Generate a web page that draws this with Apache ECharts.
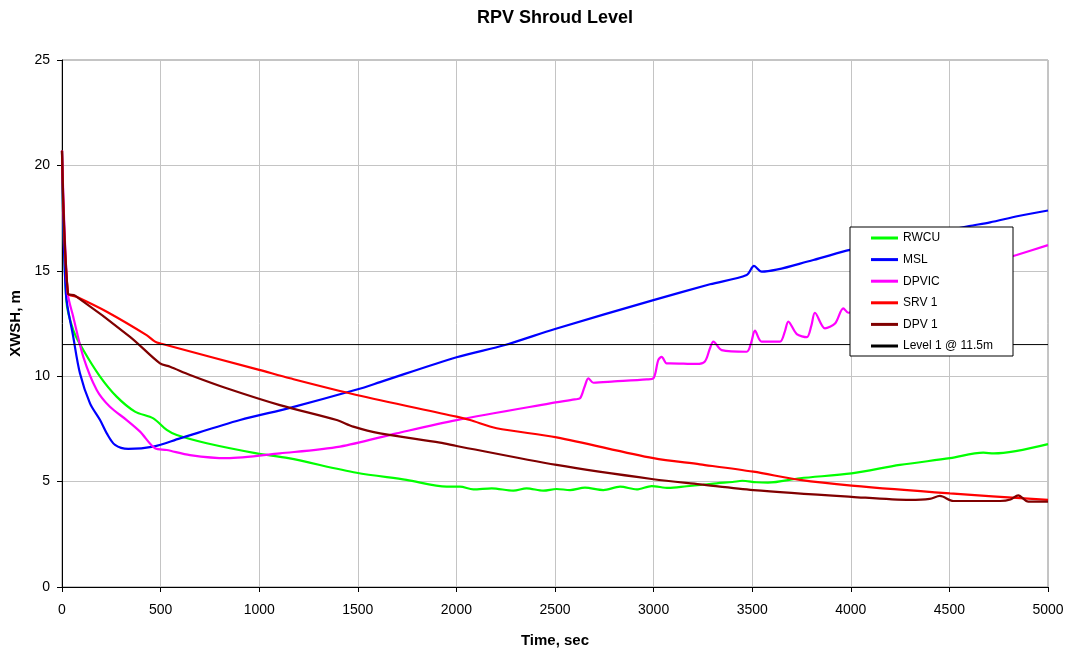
<!DOCTYPE html>
<html>
<head>
<meta charset="utf-8">
<title>RPV Shroud Level</title>
<script src="https://cdn.jsdelivr.net/npm/echarts@6/dist/echarts.min.js"></script>
<style>
  html, body { margin: 0; padding: 0; background: #fff; }
  #chart { width: 1069px; height: 652px; }
</style>
</head>
<body>
<div id="chart"></div>
<script>
// Time axis ticks (sec) and level axis ticks (m)
const xTicks = [0, 500, 1000, 1500, 2000, 2500, 3000, 3500, 4000, 4500, 5000];
const yTicks = [0, 5, 10, 15, 20, 25];

// RWCU break
const rwcuTime  = [0, 22, 57, 108, 193, 277, 370, 463, 531, 582, 734, 987, 1148, 1494, 1747, 1951, 2018, 2086, 2179, 2289, 2356, 2441, 2508, 2576, 2652, 2745, 2830, 2914, 2990, 3075, 3168, 3250, 3320, 3400, 3450, 3520, 3580, 3742, 4004, 4249, 4503, 4672, 4726, 5000];
const rwcuLevel = [20.7, 13.6, 12.19, 11.24, 9.98, 9.03, 8.32, 8.0, 7.45, 7.21, 6.82, 6.34, 6.11, 5.42, 5.08, 4.76, 4.76, 4.63, 4.68, 4.57, 4.68, 4.57, 4.65, 4.6, 4.71, 4.6, 4.76, 4.63, 4.79, 4.70, 4.78, 4.85, 4.92, 4.98, 5.04, 4.97, 4.95, 5.16, 5.39, 5.79, 6.11, 6.37, 6.34, 6.78];

// MSL break
const mslTime  = [0, 20, 57, 91, 142, 193, 227, 269, 336, 463, 598, 903, 1156, 1500, 1613, 2001, 2247, 2500, 2999, 3286, 3472, 3509, 3548, 3810, 3996, 4400, 4600, 4706, 4850, 5000];
const mslLevel = [20.7, 13.9, 11.87, 10.14, 8.71, 7.92, 7.29, 6.74, 6.55, 6.66, 7.05, 7.92, 8.5, 9.38, 9.72, 10.9, 11.48, 12.24, 13.61, 14.36, 14.80, 15.23, 14.96, 15.51, 15.99, 16.75, 17.12, 17.3, 17.6, 17.86];

// DPVIC
const dpvicTime  = [0, 28, 57, 108, 176, 243, 328, 396, 472, 531, 649, 835, 1105, 1410, 1697, 2001, 2475, 2600, 2627, 2650, 2669, 2695, 2800, 2965, 2999, 3024, 3041, 3066, 3083, 3218, 3260, 3285, 3303, 3345, 3472, 3495, 3514, 3548, 3641, 3665, 3683, 3726, 3777, 3800, 3818, 3869, 3920, 3962, 3987, 4100, 4300, 4500, 4700, 4841, 5000];
const dpvicLevel = [20.7, 14.0, 12.82, 10.92, 9.35, 8.55, 7.92, 7.37, 6.58, 6.50, 6.26, 6.11, 6.34, 6.66, 7.29, 7.92, 8.71, 8.90, 8.95, 9.5, 9.90, 9.69, 9.75, 9.85, 9.90, 10.77, 10.92, 10.61, 10.61, 10.58, 10.7, 11.3, 11.64, 11.24, 11.16, 11.6, 12.16, 11.64, 11.64, 12.1, 12.59, 12.00, 11.85, 12.4, 13.01, 12.27, 12.5, 13.22, 13.01, 13.6, 14.2, 14.8, 15.35, 15.75, 16.22];

// SRV 1
const srvTime  = [0, 30, 74, 227, 429, 472, 500, 1000, 1156, 1494, 2001, 2069, 2204, 2508, 2999, 3235, 3506, 3742, 4004, 4503, 5000];
const srvLevel = [20.7, 13.93, 13.77, 13.06, 11.95, 11.64, 11.55, 10.3, 9.9, 9.11, 8.08, 7.92, 7.53, 7.10, 6.11, 5.82, 5.47, 5.08, 4.81, 4.44, 4.13];

// DPV 1
const dpvTime  = [0, 30, 66, 345, 497, 548, 649, 835, 1105, 1393, 1477, 1613, 1917, 2001, 2508, 2999, 3235, 3506, 4004, 4300, 4400, 4452, 4520, 4757, 4810, 4849, 4900, 5000];
const dpvLevel = [20.7, 13.93, 13.82, 11.87, 10.61, 10.45, 10.06, 9.43, 8.63, 7.92, 7.61, 7.29, 6.85, 6.69, 5.79, 5.11, 4.87, 4.60, 4.28, 4.13, 4.18, 4.32, 4.08, 4.08, 4.15, 4.35, 4.05, 4.05];

// Level 1 reference
const level1Time  = [0, 5000];
const level1Level = [11.5, 11.5];

const pair = (t, v) => t.map((x, i) => [x, v[i]]);

const font = 'Arial, "Liberation Sans", sans-serif';

function curve(name, color, t, v, width) {
  return {
    name: name,
    type: 'line',
    data: pair(t, v),
    symbol: 'none',
    smooth: 0.3,
    lineStyle: { color: color, width: width },
    itemStyle: { color: color },
    emphasis: { disabled: true },
    animation: false
  };
}

const chart = echarts.init(document.getElementById('chart'), null, { renderer: 'canvas' });

chart.setOption({
  backgroundColor: '#ffffff',
  animation: false,
  title: {
    text: 'RPV Shroud Level',
    left: 550,
    top: 4,
    textAlign: 'center',
    textStyle: { fontFamily: font, fontSize: 18, fontWeight: 'bold', color: '#000' }
  },
  grid: {
    left: 62, right: 21, top: 60, bottom: 65,
    containLabel: false,
    outerBoundsMode: 'none',
    show: true, borderColor: '#8a8a8a', borderWidth: 1, backgroundColor: 'transparent'
  },
  legend: {
    orient: 'vertical',
    left: 850,
    top: 227,
    padding: [5, 20, 4, 21],
    icon: 'rect',
    itemWidth: 27,
    itemHeight: 3,
    itemGap: 9.6,
    backgroundColor: '#ffffff',
    borderColor: '#000000',
    borderWidth: 1,
    textStyle: { fontFamily: font, fontSize: 12, color: '#000' },
    data: ['RWCU', 'MSL', 'DPVIC', 'SRV 1', 'DPV 1', 'Level 1 @ 11.5m']
  },
  xAxis: {
    type: 'value',
    min: xTicks[0],
    max: xTicks[xTicks.length - 1],
    interval: xTicks[1] - xTicks[0],
    name: 'Time, sec',
    nameLocation: 'middle',
    nameGap: 46,
    nameTextStyle: { fontFamily: font, fontSize: 15, fontWeight: 'bold', color: '#000' },
    axisLine: { onZero: false, lineStyle: { color: '#000', width: 1 } },
    axisTick: { show: true, inside: false, length: 5, lineStyle: { color: '#000' } },
    axisLabel: { fontFamily: font, fontSize: 14, color: '#000', margin: 16, formatter: v => String(v) },
    splitLine: { show: true, lineStyle: { color: '#c4c4c4', width: 1 } }
  },
  yAxis: {
    type: 'value',
    min: yTicks[0],
    max: yTicks[yTicks.length - 1],
    interval: yTicks[1] - yTicks[0],
    name: 'XWSH, m',
    nameLocation: 'middle',
    nameGap: 29,
    nameTextStyle: { fontFamily: font, fontSize: 15, fontWeight: 'bold', color: '#000' },
    axisLine: { show: true, onZero: false, lineStyle: { color: '#000', width: 1 } },
    axisTick: { show: true, inside: false, length: 5, lineStyle: { color: '#000' } },
    axisLabel: { fontFamily: font, fontSize: 14, color: '#000', margin: 12, formatter: v => String(v) },
    splitLine: { show: true, lineStyle: { color: '#c4c4c4', width: 1 } }
  },
  series: [
    curve('RWCU', '#00ff00', rwcuTime, rwcuLevel, 2.2),
    curve('MSL', '#0000ff', mslTime, mslLevel, 2.2),
    curve('DPVIC', '#ff00ff', dpvicTime, dpvicLevel, 2.2),
    curve('SRV 1', '#ff0000', srvTime, srvLevel, 2.2),
    curve('DPV 1', '#800000', dpvTime, dpvLevel, 2.2),
    Object.assign(curve('Level 1 @ 11.5m', '#000000', level1Time, level1Level, 1), { smooth: false })
  ]
});
</script>
</body>
</html>
